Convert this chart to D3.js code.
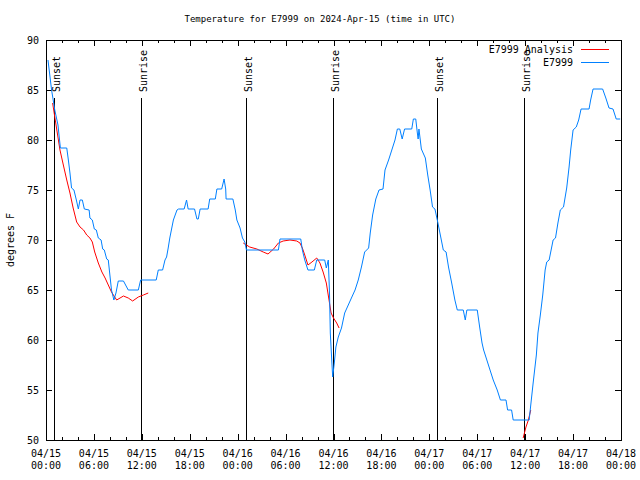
<!DOCTYPE html>
<html><head><meta charset="utf-8">
<script src="https://cdn.jsdelivr.net/npm/d3@7/dist/d3.min.js"></script>
<style>
body{margin:0;background:#fff}
text{font-family:"DejaVu Sans Mono","Liberation Mono",monospace;font-size:10px;fill:#000}
</style>
</head><body>
<svg id="chart" width="640" height="480"></svg>
<script>
// ---------- data ----------
const titleText = "Temperature for E7999 on 2024-Apr-15 (time in UTC)";
const yAxisLabel = "degrees F";
const seriesNames = ["E7999 Analysis", "E7999"];
const seriesColors = ["#ff0000", "#0080ff"];
const yTickValues = [50, 55, 60, 65, 70, 75, 80, 85, 90];
const sunEventHours = [1.0, 11.9, 25.05, 35.95, 48.95, 59.85];
const sunEventLabels = ["Sunset", "Sunrise", "Sunset", "Sunrise", "Sunset", "Sunrise"];

// observed E7999 (hours after 2024-04-15 00:00 UTC, degrees F)
const obsHours = [0.25,0.7,1.1,1.5,1.8,2.6,2.8,3.0,3.2,3.5,3.8,4.05,4.26,4.55,4.8,5.4,5.5,5.8,6.05,6.3,6.55,6.9,7.1,7.3,7.6,7.8,8.0,8.2,8.5,8.76,9.05,9.7,10.3,11.56,11.85,13.8,14.06,14.6,14.9,15.1,15.3,15.5,15.7,15.95,16.4,16.6,17.3,17.6,17.8,18.6,18.9,19.07,19.3,20.3,20.5,21.2,21.4,22.0,22.3,22.5,22.55,23.4,23.7,23.9,24.3,24.6,24.9,25.1,29.1,29.3,31.9,32.1,32.4,32.8,33.6,33.9,34.9,35.1,35.35,35.5,35.6,35.8,35.9,36.1,36.3,36.6,37.0,37.4,37.85,38.3,38.7,39.1,39.5,39.9,40.4,40.6,40.9,41.3,41.7,42.2,42.45,42.9,43.3,43.7,44.0,44.3,44.6,44.9,45.8,46.0,46.3,46.5,46.6,46.7,47.0,47.5,47.8,48.1,48.4,48.7,49.05,49.5,49.75,50.1,50.4,50.8,51.2,51.5,52.25,52.5,52.7,54.0,54.3,54.6,54.8,55.2,55.6,56.0,56.5,56.9,57.6,57.8,58.3,58.5,60.5,60.7,61.0,61.4,61.6,61.9,62.2,62.5,62.7,63.0,63.3,63.5,63.8,64.1,64.4,64.8,65.2,65.5,65.7,66.0,66.4,66.7,67.0,68.0,68.2,68.5,69.7,70.1,70.5,71.0,71.4,71.9];
const obsTemps = [88,85,83,81.5,79.2,79.2,78,76.7,75.2,75,74,73.1,74,74,73.1,73,72.2,72,71.1,71,70.2,70,69.1,69,68.1,68,66.5,65,64,64.7,65.9,65.9,65,65,66,66,67,67,68,68.3,69.2,70.2,71,72,73,73.1,73.1,74,73.1,73.1,72.1,72.1,73.1,73.1,74.1,74.1,75.1,75.1,76.1,75.1,74.1,74.1,73,72,71.2,70.2,69.8,69,69,70.1,70.1,69,68,67,67,68,68,67.2,68,64.7,60.7,57.7,56.3,57.7,59.3,60.3,61.2,62.7,63.5,64.3,65,66,67.3,68.8,69.2,70.7,72.5,74.1,75,75.1,77,78,79,80,81.1,81.1,80.1,81.1,81.1,82.1,82.1,80.7,80.1,81.1,79.1,78.2,76.5,75,73.3,73.1,71.8,70,69,68.8,67.3,65.7,64,63,63,62,63,63,61.3,59.7,59,58,57,56,55,54,54,53,53,52,52,53.5,55.7,58.5,60.7,62.5,64.5,67,67.8,68,69.2,70,70.2,71.7,73,73.3,75.2,77.3,79,81,81.3,82,83.1,83.1,84,85.1,85.1,84.2,83.2,83.1,82.1,82.1];

// analysis E7999 Analysis (null = gap between night segments)
const anaHours = [0.83,1.1,1.75,2.17,2.6,3.0,3.4,3.84,4.26,4.7,5.1,5.5,5.8,6.1,6.55,7.0,7.4,7.8,8.2,8.6,8.85,9.7,10.3,10.85,11.56,12.2,12.8,null,24.7,25.5,26.4,27.2,27.8,28.5,29.1,29.7,30.55,31.4,31.8,32.1,32.4,32.8,33.3,33.9,34.3,34.7,35.1,35.4,35.7,36.0,36.4,36.7,null,59.75,60.1,60.4,60.7];
const anaTemps = [83.7,82.3,79,77.5,76,74.7,73.2,71.8,71.3,71,70.5,70.2,69.8,68.8,67.7,66.8,66.2,65.5,64.8,64.3,64.0,64.4,64.2,63.9,64.3,64.5,64.7,null,69.7,69.3,69.1,68.8,68.6,69.1,69.7,69.9,70,69.9,69.7,69.2,68.5,67.5,67.8,68.2,67.7,66.8,65.7,64.2,62.7,62.2,61.7,61.2,null,50.2,51.3,52,53];

// ---------- chart ----------
const t0 = Date.UTC(2024, 3, 15);
const toDate = h => new Date(t0 + h * 3600000);
const L = 46, R = 621, T = 40, B = 440;
const x = d3.scaleUtc().domain([toDate(0), toDate(72)]).range([L, R]);
const y = d3.scaleLinear().domain([50, 90]).range([B, T]);
const svg = d3.select("#chart");

const g = svg.append("g").attr("shape-rendering", "crispEdges").attr("stroke", "#000").attr("stroke-width", 1);

// x ticks (inward, mirrored)
const minorX = d3.utcHour.every(2).range(toDate(0), toDate(72.01));
const majorX = d3.utcHour.every(6).range(toDate(0), toDate(72.01));
minorX.forEach(d => {
  const px = Math.round(x(d)) + 0.5;
  g.append("line").attr("x1", px).attr("x2", px).attr("y1", B).attr("y2", B - 3);
  g.append("line").attr("x1", px).attr("x2", px).attr("y1", T).attr("y2", T + 3);
});
majorX.forEach(d => {
  const px = Math.round(x(d)) + 0.5;
  g.append("line").attr("x1", px).attr("x2", px).attr("y1", B).attr("y2", B - 6);
  g.append("line").attr("x1", px).attr("x2", px).attr("y1", T).attr("y2", T + 6);
});
// y ticks
yTickValues.forEach(v => {
  const py = Math.round(y(v)) + 0.5;
  g.append("line").attr("x1", L).attr("x2", L + 6).attr("y1", py).attr("y2", py);
  g.append("line").attr("x1", R).attr("x2", R - 6).attr("y1", py).attr("y2", py);
});

// sunrise / sunset lines
sunEventHours.forEach((h, i) => {
  const px = Math.round(x(toDate(h))) + 0.5;
  g.append("line").attr("x1", px).attr("x2", px).attr("y1", 98).attr("y2", B);
  svg.append("text")
    .attr("transform", `translate(${px + 5.5},92) rotate(-90)`)
    .attr("text-anchor", "start")
    .text(sunEventLabels[i]);
});

// frame
g.append("rect").attr("x", L + 0.5).attr("y", T + 0.5).attr("width", R - L).attr("height", B - T).attr("fill", "none");

// tick labels
majorX.forEach(d => {
  const t = svg.append("text").attr("text-anchor", "middle");
  t.append("tspan").attr("x", x(d)).attr("y", 457).text(d3.utcFormat("%m/%d")(d));
  t.append("tspan").attr("x", x(d)).attr("y", 469).text(d3.utcFormat("%H:%M")(d));
});
yTickValues.forEach(v => {
  svg.append("text").attr("x", 39).attr("y", y(v) + 4).attr("text-anchor", "end").text(v);
});

// title and axis label
svg.append("text").attr("x", 320).attr("y", 22).attr("text-anchor", "middle").style("font-size", "9px").text(titleText);
svg.append("text").attr("transform", "translate(14,240) rotate(-90)").attr("text-anchor", "middle").text(yAxisLabel);

// series
const line = d3.line()
  .defined((d) => d[0] !== null && d[1] !== null)
  .x(d => x(toDate(d[0])))
  .y(d => y(d[1]));
const anaData = anaHours.map((h, i) => [h, anaTemps[i]]);
const obsData = obsHours.map((h, i) => [h, obsTemps[i]]);
svg.append("path").datum(anaData).attr("d", line).attr("fill", "none").attr("stroke", seriesColors[0]).attr("stroke-width", 1);
svg.append("path").datum(obsData).attr("d", line).attr("fill", "none").attr("stroke", seriesColors[1]).attr("stroke-width", 1);

// legend
const legY = [49.5, 62.5];
seriesNames.forEach((n, i) => {
  svg.append("text").attr("x", 573).attr("y", legY[i] + 3.5).attr("text-anchor", "end").text(n);
  svg.append("line").attr("x1", 581).attr("x2", 609).attr("y1", legY[i]).attr("y2", legY[i])
    .attr("stroke", seriesColors[i]).attr("stroke-width", 1).attr("shape-rendering", "crispEdges");
});
</script>
</body></html>
